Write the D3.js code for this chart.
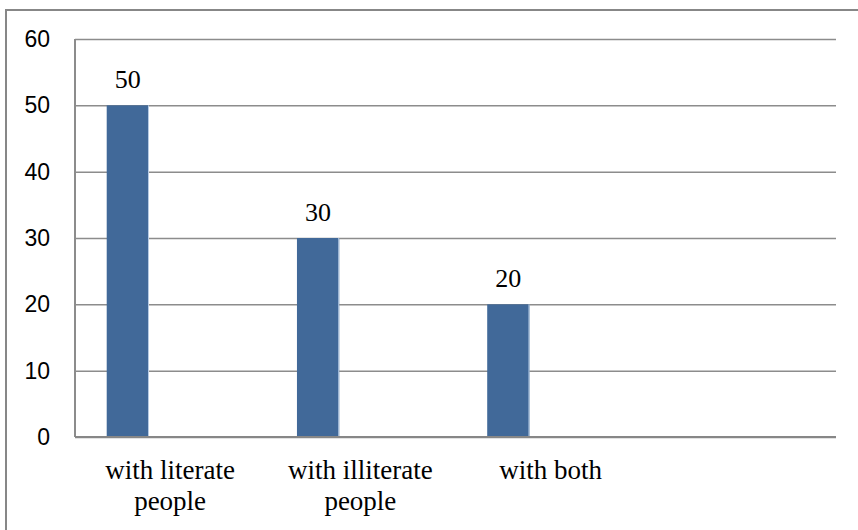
<!DOCTYPE html>
<html>
<head>
<meta charset="utf-8">
<script src="https://cdn.jsdelivr.net/npm/d3@7"></script>
<style>
  html, body { margin: 0; padding: 0; background: #fff; }
  svg { display: block; }
</style>
</head>
<body>
<svg id="chart" width="858" height="530"></svg>
<script>
// Share of respondents by whom they prefer to be with
const categories = ["with literate people", "with illiterate people", "with both", ""];
const values = [50, 30, 20, null];
const yTicks = [0, 10, 20, 30, 40, 50, 60];
const seriesSlots = ["s1", "s2", "s3"];

const svg = d3.select("#chart");
const W = 858, H = 530;
const plot = { left: 75, top: 39, right: 836, bottom: 437 };

// outer chart frame (runs off the right and bottom edges)
svg.append("rect")
  .attr("x", 6).attr("y", 10)
  .attr("width", W + 20).attr("height", H + 20)
  .attr("fill", "#fff")
  .attr("stroke", "#878787")
  .attr("stroke-width", 2);

const x = d3.scaleBand()
  .domain(categories)
  .range([plot.left, plot.right])
  .paddingInner(0).paddingOuter(0);

const xs = d3.scaleBand()
  .domain(seriesSlots)
  .range([0, x.bandwidth()])
  .paddingInner(0).paddingOuter(0.75);

const y = d3.scaleLinear()
  .domain([0, 60])
  .range([plot.bottom, plot.top]);

// y axis with gridlines
const yAxis = svg.append("g")
  .attr("transform", `translate(${plot.left},0)`)
  .call(d3.axisLeft(y)
    .tickValues(yTicks)
    .tickSize(-(plot.right - plot.left))
    .tickPadding(25)
    .tickFormat(d3.format("d")));
yAxis.select(".domain").remove();
yAxis.selectAll(".tick line")
  .attr("stroke", "#8c8c8c")
  .attr("stroke-width", 1.5);
yAxis.selectAll(".tick text")
  .attr("fill", "#000")
  .style("font-family", "'Liberation Sans', Arial, sans-serif")
  .style("font-size", "23px");

// left axis line
svg.append("line")
  .attr("x1", plot.left).attr("x2", plot.left)
  .attr("y1", plot.top).attr("y2", plot.bottom)
  .attr("stroke", "#8c8c8c").attr("stroke-width", 2);

// bars
const barData = categories.map((c, i) => ({ c, v: values[i] })).filter(d => d.v != null);

svg.append("g").selectAll("rect")
  .data(barData)
  .join("rect")
  .attr("x", d => x(d.c) + xs("s1"))
  .attr("y", d => y(d.v))
  .attr("width", xs.bandwidth())
  .attr("height", d => y(0) - y(d.v))
  .attr("fill", "#416999");

// thin light edge on the right side of each bar
svg.append("g").selectAll("line")
  .data(barData)
  .join("line")
  .attr("x1", d => x(d.c) + xs("s1") + xs.bandwidth() - 0.5)
  .attr("x2", d => x(d.c) + xs("s1") + xs.bandwidth() - 0.5)
  .attr("y1", d => y(d.v))
  .attr("y2", y(0))
  .attr("stroke", "#b9cde5")
  .attr("stroke-width", 1);

// value labels
svg.append("g").selectAll("text")
  .data(barData)
  .join("text")
  .attr("x", d => x(d.c) + xs("s1") + xs.bandwidth() / 2)
  .attr("y", d => y(d.v) - 17)
  .attr("text-anchor", "middle")
  .style("font-family", "'Liberation Serif', 'Times New Roman', serif")
  .style("font-size", "26px")
  .attr("fill", "#000")
  .text(d => d.v);

// bottom axis line
svg.append("line")
  .attr("x1", plot.left).attr("x2", plot.right)
  .attr("y1", plot.bottom).attr("y2", plot.bottom)
  .attr("stroke", "#878787").attr("stroke-width", 2);

// category labels, wrapped to the band width
const xLabels = svg.append("g")
  .style("font-family", "'Liberation Serif', 'Times New Roman', serif")
  .style("font-size", "27px")
  .attr("fill", "#000");

function wrapWords(text, maxW, node) {
  const words = text.split(" ");
  const lines = [];
  let cur = "";
  words.forEach(w => {
    const test = cur ? cur + " " + w : w;
    node.text(test);
    if (cur && node.node().getComputedTextLength() > maxW) {
      lines.push(cur);
      cur = w;
    } else {
      cur = test;
    }
  });
  if (cur) lines.push(cur);
  node.text(null);
  return lines;
}

categories.filter(c => c).forEach(c => {
  const t = xLabels.append("text")
    .attr("text-anchor", "middle")
    .attr("x", x(c) + x.bandwidth() / 2)
    .attr("y", plot.bottom + 42);
  const lines = wrapWords(c, x.bandwidth() - 20, t);
  lines.forEach((ln, i) => {
    t.append("tspan")
      .attr("x", x(c) + x.bandwidth() / 2)
      .attr("dy", i === 0 ? 0 : 31)
      .text(ln);
  });
});
</script>
</body>
</html>
